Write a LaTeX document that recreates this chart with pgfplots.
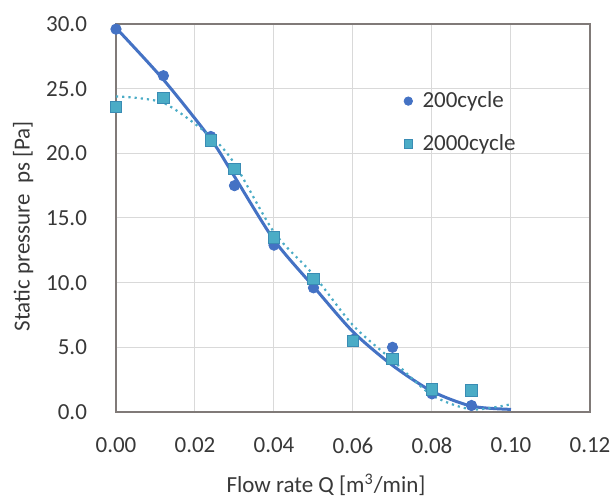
\documentclass[border=0pt]{standalone}
\usepackage{fontspec}
\setmainfont{Carlito}
\usepackage{pgfplots}
\pgfplotsset{compat=1.18}

\definecolor{cBlue}{RGB}{68,114,196}
\definecolor{cTeal}{RGB}{75,172,198}
\definecolor{cTealEdge}{RGB}{58,140,180}
\definecolor{frameGray}{RGB}{128,122,120}
\definecolor{gridGray}{RGB}{217,217,217}
\definecolor{txt}{RGB}{56,56,56}

\begin{document}
\begin{tikzpicture}
\begin{axis}[
    scale only axis,
    width=237pt, height=194pt,
    xmin=0, xmax=0.12, ymin=0, ymax=30,
    xtick={0,0.02,0.04,0.06,0.08,0.10,0.12},
    ytick={0,5,10,15,20,25,30},
    scaled x ticks=false,
    xticklabel style={/pgf/number format/fixed, /pgf/number format/fixed zerofill,
      /pgf/number format/precision=2, /pgf/number format/assume math mode=true, yshift=-9.5pt},
    yticklabel style={/pgf/number format/fixed, /pgf/number format/fixed zerofill,
      /pgf/number format/precision=1, /pgf/number format/assume math mode=true, xshift=-11pt},
    tick label style={font=\fontsize{11.5}{13}\selectfont, text=txt},
    major tick length=0pt,
    grid=major,
    grid style={gridGray, line width=0.5pt},
    axis line style={frameGray, line width=1pt},
    clip=false,
    xlabel={Flow rate Q [m\textsuperscript{3}/min]},
    ylabel={Static pressure\ \ ps [Pa]},
    label style={font=\fontsize{11.5}{13}\selectfont, text=txt},
    xlabel style={at={(axis description cs:0.443,-0.188)}, anchor=center},
    ylabel style={at={(axis description cs:-0.196,0.479)}, anchor=center},
    legend style={draw=none, fill=none, at={(axis description cs:0.607,0.837)}, anchor=north west,
      font=\fontsize{11.5}{13}\selectfont, row sep=8pt, column sep=3pt, inner sep=0pt, text=txt},
    legend cell align=left,
    legend image post style={mark size=2.1pt},
]
% trend lines
\addplot[cBlue, line width=1.5pt, smooth, tension=0.45, forget plot] coordinates {
  (0,29.7) (0.012,25.7) (0.024,21.1) (0.03,18.2) (0.04,13.3) (0.05,9.7)
  (0.06,6.2) (0.07,3.6) (0.08,1.6) (0.09,0.45) (0.10,0.2)
};
\addplot[cTeal, line width=1.1pt, dotted, smooth, tension=0.45, forget plot] coordinates {
  (0,24.4) (0.012,23.9) (0.024,21.3) (0.03,19.2) (0.04,13.9) (0.05,10.6)
  (0.06,6.7) (0.07,4.0) (0.08,1.3) (0.09,0.2) (0.10,0.6)
};
% data
\addplot[only marks, mark=*, mark size=2.6pt, mark options={fill=cBlue, draw=cBlue}] coordinates {
  (0,29.6) (0.012,26.0) (0.024,21.3) (0.03,17.5) (0.04,12.9) (0.05,9.6)
  (0.06,5.6) (0.07,5.0) (0.08,1.4) (0.09,0.5)
};
\addlegendentry{200cycle}
\addplot[only marks, mark=square*, mark size=2.9pt, mark options={fill=cTeal, draw=cTealEdge}] coordinates {
  (0,23.6) (0.012,24.3) (0.024,21.0) (0.03,18.8) (0.04,13.5) (0.05,10.3)
  (0.06,5.5) (0.07,4.1) (0.08,1.75) (0.09,1.65)
};
\addlegendentry{2000cycle}
\coordinate (ll) at (rel axis cs:0,0);
\coordinate (ur) at (rel axis cs:1,1);
\end{axis}
\pgfresetboundingbox
\path[use as bounding box] ([shift={(-58pt,-43.5pt)}]ll) rectangle ([shift={(11pt,12pt)}]ur);
\end{tikzpicture}
\end{document}
